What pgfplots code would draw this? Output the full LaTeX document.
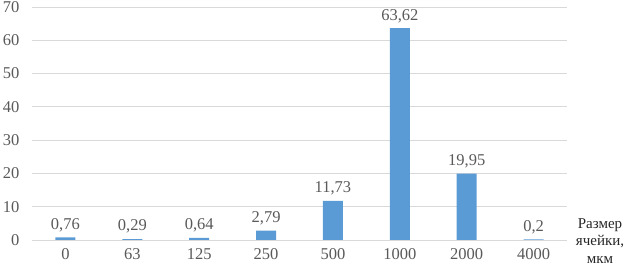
\documentclass[border=0pt]{standalone}
\usepackage{pgfplots}
\pgfplotsset{compat=1.18}
\usepackage{fontspec}
\setmainfont{Liberation Serif}
\definecolor{barblue}{HTML}{5B9BD5}
\definecolor{txtgray}{HTML}{595959}
\definecolor{gridgray}{HTML}{D9D9D9}
\begin{document}
\begin{tikzpicture}
\path[use as bounding box] (-32pt,-26pt) rectangle (605pt,240pt);
\begin{axis}[
  scale only axis,
  width=535pt, height=233pt,
  at={(0pt,0pt)}, anchor=south west,
  ymin=0, ymax=70, ytick={0,10,...,70},
  xmin=-0.5, xmax=7.5,
  xtick={0,...,7},
  xticklabels={0,63,125,250,500,1000,2000,4000},
  axis line style={draw=none},
  major tick length=0pt,
  ymajorgrids, grid style={gridgray, line width=0.8pt},
  /pgf/number format/assume math mode=true,
  /pgf/number format/use comma,
  tick label style={font=\fontsize{16.5}{19}\selectfont, text=txtgray},
  yticklabel style={xshift=-9pt},
  xticklabel style={yshift=-5pt},
  ybar, bar width=20pt,
  nodes near coords,
  nodes near coords style={font=\fontsize{16.5}{19}\selectfont, text=txtgray, /pgf/number format/precision=2, /pgf/number format/fixed, /pgf/number format/use comma, yshift=2pt},
  xlabel={Размер\\ячейки,\\мкм},
  xlabel style={at={(axis description cs:1,0)}, anchor=center, xshift=33pt, yshift=-1pt, align=center, font=\fontsize{15}{17.5}\selectfont, text=black!85},
  clip=false,
]
\addplot[fill=barblue, draw=none] coordinates {(0,0.76) (1,0.29) (2,0.64) (3,2.79) (4,11.73) (5,63.62) (6,19.95) (7,0.2)};
\draw[gridgray, line width=0.8pt] (axis cs:-0.5,0) -- (axis cs:7.5,0);
\end{axis}
\end{tikzpicture}
\end{document}
